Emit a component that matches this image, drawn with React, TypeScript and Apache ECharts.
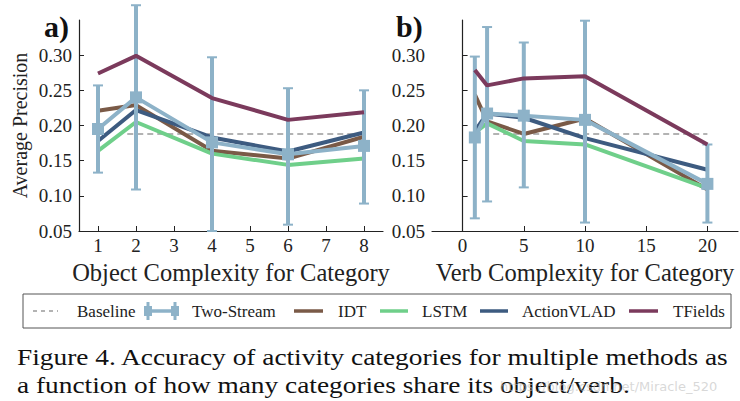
import React, { useEffect, useRef } from 'react';
import * as echarts from 'echarts';

// ---- data: panel a) object complexity ----
const objX = [1, 2, 4, 6, 8];
const objTwoStream = [0.195, 0.24, 0.176, 0.159, 0.171];
const objTwoStreamLo = [0.133, 0.109, 0.05, 0.059, 0.089];
const objTwoStreamHi = [0.257, 0.371, 0.297, 0.253, 0.25];
const objIDT = [0.221, 0.229, 0.164, 0.153, 0.184];
const objLSTM = [0.164, 0.205, 0.16, 0.144, 0.153];
const objActionVLAD = [0.178, 0.222, 0.183, 0.163, 0.19];
const objTFields = [0.274, 0.299, 0.239, 0.208, 0.219];
const objBaselineX = [1.77, 8];

// ---- data: panel b) verb complexity ----
const verbX = [1, 2, 5, 10, 20];
const verbTwoStream = [0.183, 0.217, 0.214, 0.208, 0.117];
const verbTwoStreamLo = [0.068, 0.092, 0.112, 0.062, 0.062];
const verbTwoStreamHi = [0.298, 0.34, 0.318, 0.349, 0.173];
const verbIDT = [0.244, 0.206, 0.188, 0.21, 0.109];
const verbLSTM = [0.19, 0.203, 0.178, 0.173, 0.111];
const verbActionVLAD = [0.192, 0.217, 0.211, 0.182, 0.137];
const verbTFields = [0.279, 0.257, 0.267, 0.27, 0.173];
const verbBaselineX = [2.5, 20];

const baselineValue = 0.188;

// ---- ticks ----
const yTicks = [0.05, 0.1, 0.15, 0.2, 0.25, 0.3];
const objTicks = [1, 2, 3, 4, 5, 6, 7, 8];
const verbTicks = [0, 5, 10, 15, 20];

const C = {
  base: '#9a9a9a',
  two: '#8db2c8',
  idt: '#7a5a47',
  lstm: '#6fcf8a',
  avlad: '#3d5b80',
  tf: '#7b3a5c',
  axis: '#222',
};

const serif = "'Liberation Serif', 'Times New Roman', serif";

const zip = (xs: number[], ys: number[]) => xs.map((x, i) => [x, ys[i]]);
const zip3 = (xs: number[], a: number[], b: number[]) => xs.map((x, i) => [x, a[i], b[i]]);

function yAxis(gridIndex: number, name: string) {
  return {
    type: 'value',
    gridIndex,
    min: 0.05,
    max: 0.35,
    axisLine: { show: true, lineStyle: { color: C.axis, width: 1.2 } },
    axisTick: { show: true, inside: true, length: 5, customValues: yTicks, lineStyle: { color: C.axis, width: 1 } },
    axisLabel: {
      customValues: yTicks,
      formatter: (v: number) => v.toFixed(2),
      fontFamily: serif,
      fontSize: 19,
      color: C.axis,
      margin: 7,
    },
    splitLine: { show: false },
    name,
    nameLocation: 'middle',
    nameGap: 49,
    nameTextStyle: { fontFamily: serif, fontSize: 20, color: C.axis },
  };
}

function xAxis(gridIndex: number, min: number, max: number, ticks: number[], name: string) {
  return {
    type: 'value',
    gridIndex,
    min,
    max,
    axisLine: { show: true, onZero: false, lineStyle: { color: C.axis, width: 1.2 } },
    axisTick: { show: true, inside: true, length: 5, customValues: ticks, lineStyle: { color: C.axis, width: 1 } },
    axisLabel: {
      customValues: ticks,
      fontFamily: serif,
      fontSize: 19,
      color: C.axis,
      margin: 5,
    },
    splitLine: { show: false },
    name,
    nameLocation: 'middle',
    nameGap: 27,
    nameTextStyle: { fontFamily: serif, fontSize: 24.5, color: C.axis },
  };
}

function lineSeries(idx: number, data: number[][], color: string, z = 2) {
  return {
    type: 'line',
    xAxisIndex: idx,
    yAxisIndex: idx,
    data,
    symbol: 'none',
    lineStyle: { color, width: 4 },
    itemStyle: { color },
    z,
  };
}

function errorSeries(idx: number, data: number[][]) {
  return {
    type: 'custom',
    xAxisIndex: idx,
    yAxisIndex: idx,
    data,
    clip: false,
    z: 4,
    encode: { x: 0, y: [1, 2] },
    renderItem: (params: any, api: any) => {
      const x = api.value(0);
      const lo = api.value(1);
      const hi = api.value(2);
      const p1 = api.coord([x, hi]);
      const p2 = api.coord([x, lo]);
      const w = 5;
      const style = { stroke: C.two, lineWidth: 4 };
      return {
        type: 'group',
        children: [
          { type: 'line', shape: { x1: p1[0], y1: p1[1], x2: p2[0], y2: p2[1] }, style },
          { type: 'line', shape: { x1: p1[0] - w, y1: p1[1], x2: p1[0] + w, y2: p1[1] }, style: { stroke: C.two, lineWidth: 2 } },
          { type: 'line', shape: { x1: p2[0] - w, y1: p2[1], x2: p2[0] + w, y2: p2[1] }, style: { stroke: C.two, lineWidth: 2 } },
        ],
      };
    },
  };
}

function panelSeries(idx: number, xs: number[], two: number[], lo: number[], hi: number[], idt: number[], lstm: number[], av: number[], tf: number[], bx: number[]) {
  return [
    {
      type: 'line',
      xAxisIndex: idx,
      yAxisIndex: idx,
      data: bx.map((x) => [x, baselineValue]),
      symbol: 'none',
      lineStyle: { color: C.base, width: 1.5, type: [6, 4] },
      z: 1,
    },
    lineSeries(idx, zip(xs, idt), C.idt, 2),
    lineSeries(idx, zip(xs, lstm), C.lstm, 2),
    lineSeries(idx, zip(xs, av), C.avlad, 2),
    errorSeries(idx, zip3(xs, lo, hi)),
    {
      type: 'line',
      xAxisIndex: idx,
      yAxisIndex: idx,
      data: zip(xs, two),
      symbol: 'rect',
      symbolSize: 12,
      lineStyle: { color: C.two, width: 4 },
      itemStyle: { color: C.two },
      z: 5,
    },
    lineSeries(idx, zip(xs, tf), C.tf, 6),
  ];
}

function legendGraphics() {
  const cy = 311;
  const txt = (x: number, text: string) => ({
    type: 'text',
    x,
    y: cy,
    style: { text, fontFamily: serif, fontSize: 17, fill: '#222', verticalAlign: 'middle', align: 'left' },
  });
  const seg = (x1: number, x2: number, color: string, width = 3.5, dash?: number[]) => ({
    type: 'line',
    shape: { x1, y1: cy, x2, y2: cy },
    style: { stroke: color, lineWidth: width, lineDash: dash },
  });
  return [
    {
      type: 'rect',
      shape: { x: 23, y: 294, width: 708, height: 34 },
      style: { fill: '#fff', stroke: '#555', lineWidth: 1 },
    },
    seg(33, 58, C.base, 1.5, [4, 4]),
    txt(77, 'Baseline'),
    seg(148, 175, C.two, 3.5),
    { type: 'line', shape: { x1: 148, y1: cy - 9, x2: 148, y2: cy + 9 }, style: { stroke: C.two, lineWidth: 3 } },
    { type: 'line', shape: { x1: 175, y1: cy - 9, x2: 175, y2: cy + 9 }, style: { stroke: C.two, lineWidth: 3 } },
    { type: 'rect', shape: { x: 144, y: cy - 5, width: 8, height: 10 }, style: { fill: C.two } },
    { type: 'rect', shape: { x: 171, y: cy - 5, width: 8, height: 10 }, style: { fill: C.two } },
    txt(192, 'Two-Stream'),
    seg(294, 323, C.idt),
    txt(338, 'IDT'),
    seg(380, 408, C.lstm),
    txt(422, 'LSTM'),
    seg(480, 508, C.avlad),
    txt(522, 'ActionVLAD'),
    seg(629, 658, C.tf),
    txt(673, 'TFields'),
  ];
}

export default function App() {
  const ref = useRef<HTMLDivElement>(null);
  useEffect(() => {
    const chart = echarts.init(ref.current!, null, { renderer: 'svg' });
    const option: any = {
      animation: false,
      backgroundColor: '#fff',
      grid: [
        { left: 79, top: 20, width: 304, height: 211 },
        { left: 432, top: 20, width: 306, height: 211 },
      ],
      xAxis: [
        xAxis(0, 0.5, 8.5, objTicks, 'Object Complexity for Category'),
        xAxis(1, -2.5, 22.5, verbTicks, 'Verb Complexity for Category'),
      ],
      yAxis: [yAxis(0, 'Average Precision'), yAxis(1, '')],
      series: [
        ...panelSeries(0, objX, objTwoStream, objTwoStreamLo, objTwoStreamHi, objIDT, objLSTM, objActionVLAD, objTFields, objBaselineX),
        ...panelSeries(1, verbX, verbTwoStream, verbTwoStreamLo, verbTwoStreamHi, verbIDT, verbLSTM, verbActionVLAD, verbTFields, verbBaselineX),
      ],
      graphic: [
        {
          type: 'text',
          x: 44,
          y: 26,
          style: { text: 'a)', fontFamily: serif, fontWeight: 'bold', fontSize: 30, fill: '#111', verticalAlign: 'middle' },
        },
        {
          type: 'text',
          x: 396,
          y: 26,
          style: { text: 'b)', fontFamily: serif, fontWeight: 'bold', fontSize: 30, fill: '#111', verticalAlign: 'middle' },
        },
        ...legendGraphics(),
        {
          type: 'text',
          x: 17,
          y: 357,
          scaleX: 1.14,
          style: {
            text: 'Figure 4. Accuracy of activity categories for multiple methods as',
            fontFamily: serif,
            fontSize: 24,
            fill: '#111',
            verticalAlign: 'middle',
          },
        },
        {
          type: 'text',
          x: 17,
          y: 385,
          scaleX: 1.14,
          style: {
            text: 'a function of how many categories share its object/verb.',
            fontFamily: serif,
            fontSize: 24,
            fill: '#111',
            verticalAlign: 'middle',
          },
        },
        {
          type: 'text',
          x: 500,
          y: 386,
          style: {
            text: 'https://blog.csdn.net/Miracle_520',
            fontFamily: "'DejaVu Sans', sans-serif",
            fontSize: 13,
            fill: 'rgba(190,190,190,0.6)',
            verticalAlign: 'middle',
          },
        },
      ],
    };
    chart.setOption(option);
    return () => chart.dispose();
  }, []);
  return (
    <div
      ref={ref}
      style={{ position: 'fixed', left: 0, top: 0, width: 740, height: 401, background: '#fff' }}
    />
  );
}
